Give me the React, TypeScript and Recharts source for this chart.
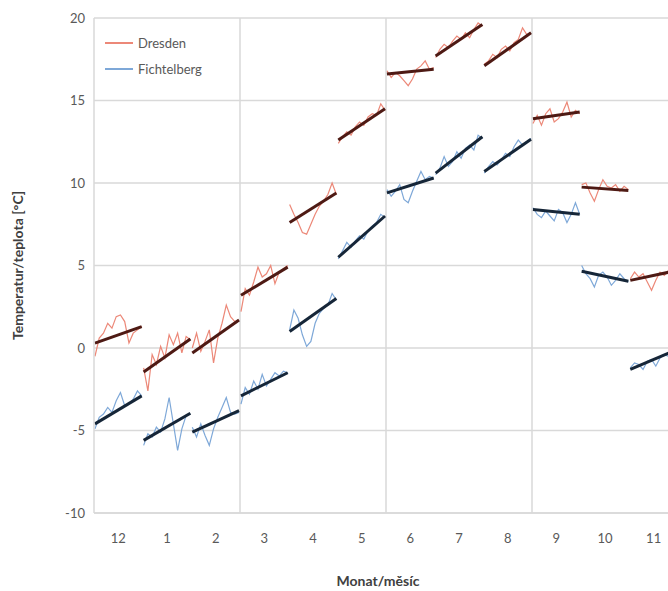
import { LineChart, Line, XAxis, YAxis, CartesianGrid, ReferenceLine, Label } from 'recharts';

// month order on the axis: December first, then January..November
const months = ['12', '1', '2', '3', '4', '5', '6', '7', '8', '9', '10', '11'];
const yTicks = [-10, -5, 0, 5, 10, 15, 20];

// daily-ish temperature course inside each month (°C)
const dresdenDaily = [
  [-0.5, 0.6, 0.9, 1.5, 1.2, 1.9, 2.0, 1.6, 0.3, 0.9, 1.1, 1.3],
  [-1.2, -2.6, -0.4, -1.0, 0.1, -0.6, 0.8, 0.2, 0.9, -0.3, 0.7, 0.5],
  [0.0, 0.9, -0.2, 0.4, 1.1, -0.9, 0.6, 1.5, 2.6, 1.9, 1.6, 1.7],
  [2.2, 3.6, 3.2, 4.0, 4.9, 4.3, 4.5, 5.0, 3.9, 4.6, 4.8, 5.0],
  [8.7, 8.1, 7.6, 7.0, 6.9, 7.5, 8.1, 8.6, 8.9, 9.3, 10.0, 9.3],
  [12.4, 12.8, 13.1, 12.9, 13.4, 13.7, 13.5, 14.0, 14.2, 14.1, 14.8, 14.4],
  [16.8, 16.4, 16.7, 16.5, 16.2, 15.9, 16.3, 16.9, 17.1, 17.4, 16.9, 17.0],
  [17.6, 18.1, 18.4, 18.2, 18.6, 18.9, 18.7, 19.1, 18.8, 19.3, 19.7, 19.5],
  [17.2, 17.4, 17.8, 17.6, 18.1, 18.3, 18.0, 18.5, 18.7, 19.4, 19.0, 19.1],
  [13.6, 14.1, 13.5, 14.2, 14.5, 13.7, 13.9, 14.3, 14.9, 14.0, 14.4, 14.2],
  [9.9, 10.0, 9.4, 8.9, 9.6, 10.2, 9.8, 9.7, 9.9, 9.5, 9.8, 9.6],
  [4.2, 4.6, 4.3, 4.5, 4.0, 3.5, 4.1, 4.6, 4.4, 4.7, 4.5, 4.8],
];

const fichtelbergDaily = [
  [-4.9, -4.2, -4.0, -3.6, -3.9, -3.2, -2.7, -3.5, -3.4, -3.1, -2.6, -2.9],
  [-5.9, -5.2, -5.4, -4.8, -5.1, -4.3, -3.0, -4.6, -6.2, -4.9, -4.1, -4.0],
  [-4.8, -5.4, -4.6, -5.3, -5.9, -4.9, -4.2, -3.6, -3.0, -3.9, -4.0, -3.9],
  [-3.4, -2.4, -2.8, -2.0, -2.5, -1.6, -2.3, -1.9, -1.5, -1.7, -1.4, -1.5],
  [1.1, 2.3, 1.8, 0.8, 0.1, 0.4, 1.5, 2.1, 2.4, 2.6, 3.3, 2.9],
  [5.4, 5.9, 6.4, 6.1, 6.5, 6.8, 6.6, 7.1, 7.4, 7.6, 8.1, 7.9],
  [9.6, 9.2, 9.5, 9.9, 9.0, 8.8, 9.5, 10.1, 10.7, 10.2, 10.4, 10.3],
  [10.5, 10.9, 11.6, 11.0, 11.3, 11.9, 11.5, 12.1, 12.3, 12.0, 12.9, 12.7],
  [10.6, 11.0, 11.3, 11.1, 11.4, 11.8, 11.6, 12.2, 12.6, 12.3, 12.5, 12.7],
  [8.5, 8.1, 7.9, 8.3, 8.0, 7.7, 8.4, 8.2, 7.6, 8.1, 8.8, 8.1],
  [5.0, 4.5, 4.2, 3.7, 4.4, 4.6, 4.3, 3.8, 4.1, 4.5, 4.2, 4.0],
  [-1.2, -0.9, -1.0, -1.3, -0.8, -0.7, -1.1, -0.6, -0.4, -0.5, -0.2, -0.1],
];

// linear trend per month: [value at month start, value at month end]
const dresdenTrend = [
  [0.3, 1.3], [-1.45, 0.55], [-0.3, 1.7], [3.2, 4.9], [7.6, 9.4], [12.6, 14.5],
  [16.6, 16.9], [17.7, 19.6], [17.1, 19.1], [13.9, 14.3], [9.75, 9.55], [4.1, 4.7],
];
const fichtelbergTrend = [
  [-4.6, -2.9], [-5.6, -3.95], [-5.1, -3.8], [-2.9, -1.5], [1.0, 3.0], [5.5, 8.0],
  [9.4, 10.3], [10.6, 12.8], [10.7, 12.65], [8.4, 8.1], [4.65, 4.05], [-1.3, -0.1],
];

const seasonBreaks = [3, 6, 9];

const DRESDEN = '#ec8878';
const FICHTEL = '#7ea8d8';
const DRESDEN_TREND = '#4e1a14';
const FICHTEL_TREND = '#162638';
const FONT = 'Lato, "Open Sans", sans-serif';

const dailyPoints = (m: number, vals: number[]) =>
  vals.map((y, k) => ({ x: m + 0.02 + (k * 0.96) / (vals.length - 1), y }));

const trendPoints = (m: number, [a, b]: number[]) => [
  { x: m + 0.02, y: a },
  { x: m + 0.98, y: b },
];

function LegendBox() {
  const row = (color: string, text: string) => (
    <div style={{ display: 'flex', alignItems: 'center', height: 26 }}>
      <div style={{ width: 28, height: 2, background: color, marginRight: 5 }} />
      <span style={{ fontSize: 13, color: '#595959', fontFamily: FONT }}>{text}</span>
    </div>
  );
  return (
    <div style={{ position: 'absolute', left: 105, top: 30 }}>
      {row(DRESDEN, 'Dresden')}
      {row(FICHTEL, 'Fichtelberg')}
    </div>
  );
}

export default function App() {
  return (
    <div style={{ position: 'absolute', left: 0, top: 0, width: 668, height: 591, overflow: 'hidden', background: '#fff' }}>
      <LineChart width={700} height={591} margin={{ top: 18, right: 22, bottom: 3, left: 0 }}>
        <CartesianGrid vertical={false} stroke="#d9d9d9" strokeWidth={1.5} />
        {seasonBreaks.map((b) => (
          <ReferenceLine key={b} x={b} stroke="#d9d9d9" strokeWidth={1.5} />
        ))}
        <XAxis
          dataKey="x"
          type="number"
          domain={[0, 12]}
          ticks={months.map((_, i) => i + 0.5)}
          tickFormatter={(v) => months[Math.floor(v)]}
          axisLine={{ stroke: '#d9d9d9', strokeWidth: 1.5 }}
          tickLine={false}
          tickSize={0}
          tickMargin={21}
          height={75}
          tick={{ fill: '#595959', fontSize: 13, fontFamily: FONT }}
          allowDuplicatedCategory={false}
        >
          <Label
            value="Monat/měsíc"
            position="insideBottom"
            offset={2}
            dx={-8}
            style={{ fill: '#404040', fontSize: 14, fontWeight: 700, fontFamily: FONT }}
          />
        </XAxis>
        <YAxis
          type="number"
          domain={[-10, 20]}
          ticks={yTicks}
          width={94}
          axisLine={{ stroke: '#d9d9d9', strokeWidth: 1.5 }}
          tickLine={false}
          tickSize={0}
          tickMargin={9}
          tick={{ fill: '#595959', fontSize: 13, fontFamily: FONT }}
        >
          <Label
            value="Temperatur/teplota [°C]"
            angle={-90}
            position="insideLeft"
            offset={18}
            style={{ textAnchor: 'middle', fill: '#404040', fontSize: 14, fontWeight: 700, fontFamily: FONT }}
          />
        </YAxis>
        {months.map((_, m) => (
          <Line
            key={'fd' + m}
            data={dailyPoints(m, fichtelbergDaily[m])}
            dataKey="y"
            stroke={FICHTEL}
            strokeWidth={1.2}
            dot={false}
            isAnimationActive={false}
          />
        ))}
        {months.map((_, m) => (
          <Line
            key={'dd' + m}
            data={dailyPoints(m, dresdenDaily[m])}
            dataKey="y"
            stroke={DRESDEN}
            strokeWidth={1.2}
            dot={false}
            isAnimationActive={false}
          />
        ))}
        {months.map((_, m) => (
          <Line
            key={'ft' + m}
            data={trendPoints(m, fichtelbergTrend[m])}
            dataKey="y"
            stroke={FICHTEL_TREND}
            strokeWidth={3}
            dot={false}
            isAnimationActive={false}
          />
        ))}
        {months.map((_, m) => (
          <Line
            key={'dt' + m}
            data={trendPoints(m, dresdenTrend[m])}
            dataKey="y"
            stroke={DRESDEN_TREND}
            strokeWidth={3}
            dot={false}
            isAnimationActive={false}
          />
        ))}
      </LineChart>
      <LegendBox />
    </div>
  );
}
